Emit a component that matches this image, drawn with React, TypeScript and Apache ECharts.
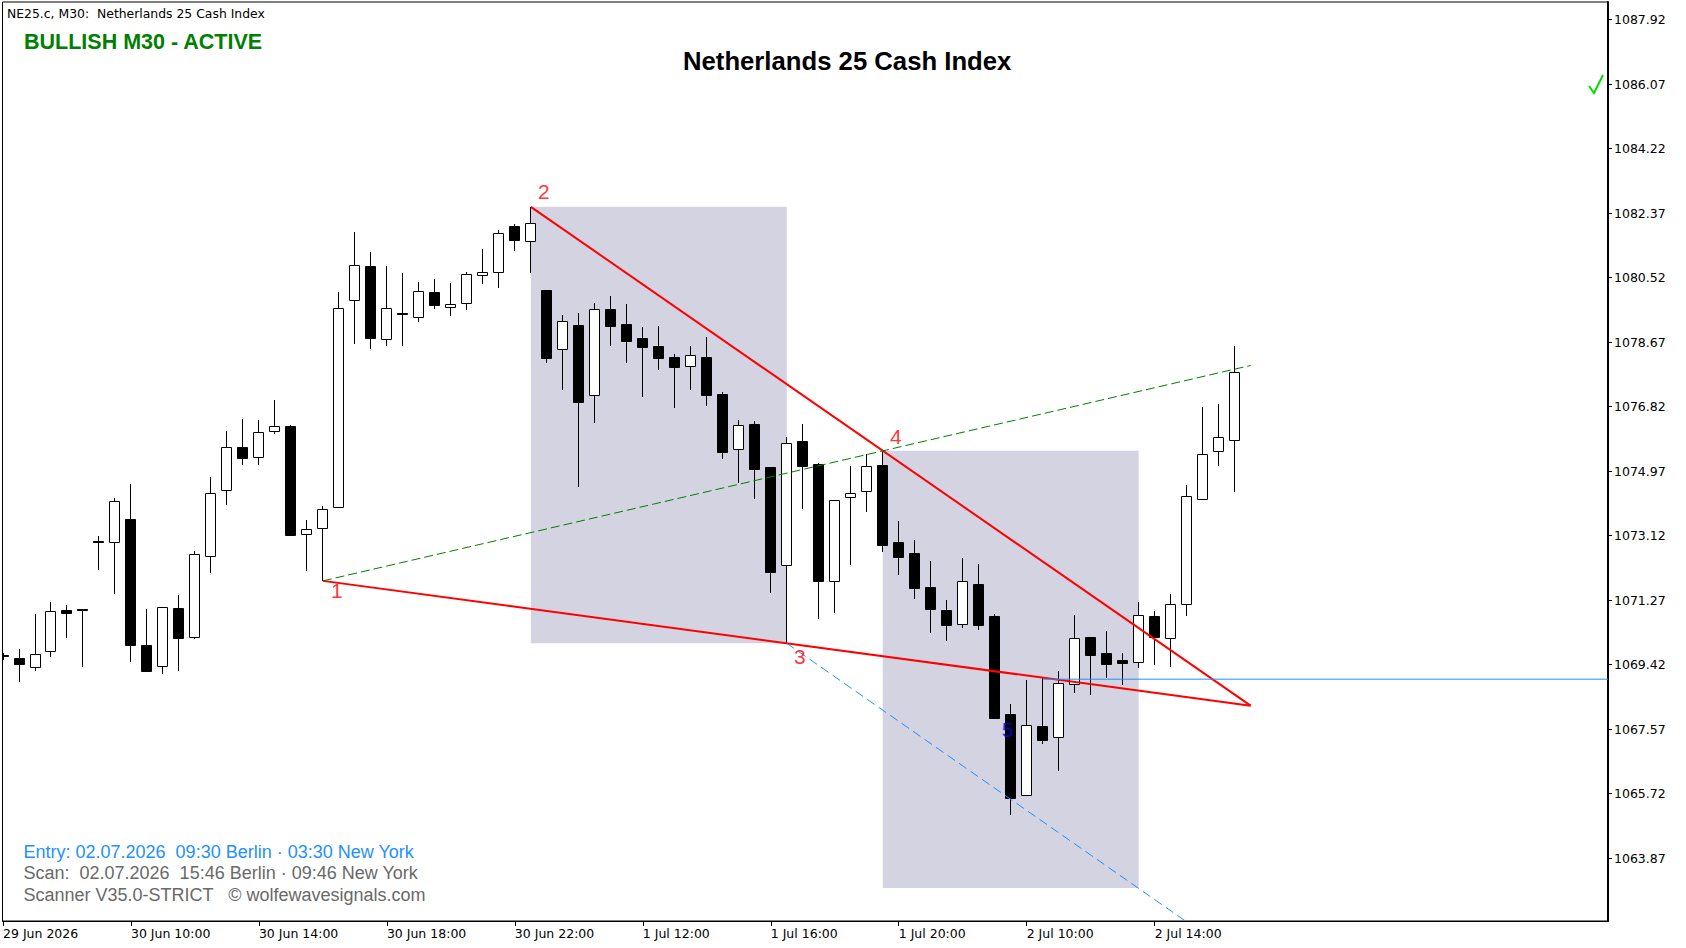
import React, { useEffect, useRef } from "react";
import * as echarts from "echarts";

// ---------- data ----------
const firstBar = -1;
const opens = [1069.68,1069.60,1069.34,1069.80,1070.98,1071.00,1072.97,1072.94,1073.59,1069.97,1069.39,1071.03,1070.20,1072.52,1074.42,1075.65,1075.36,1076.11,1076.25,1073.16,1073.33,1073.95,1079.87,1080.84,1078.75,1079.50,1079.38,1080.10,1079.69,1079.80,1080.59,1080.67,1081.99,1081.56,1080.16,1078.46,1079.15,1077.14,1079.61,1079.18,1078.78,1078.55,1078.23,1077.97,1078.23,1077.18,1075.59,1076.32,1075.08,1072.28,1075.83,1075.16,1071.82,1074.22,1074.39,1075.13,1072.93,1072.61,1071.63,1070.98,1070.57,1071.73,1070.81,1068.00,1065.67,1067.66,1067.33,1068.87,1070.20,1069.74,1069.54,1069.50,1070.81,1070.17,1071.15,1074.16,1075.54,1075.85];
const closes = [1069.66,1069.43,1069.71,1070.96,1070.89,1070.98,1072.96,1074.10,1069.98,1069.24,1071.06,1070.19,1072.58,1074.33,1075.65,1075.35,1076.08,1076.25,1073.14,1073.30,1073.87,1079.64,1080.87,1078.80,1079.64,1079.49,1080.13,1079.74,1079.75,1080.61,1080.67,1081.79,1081.61,1082.08,1078.22,1079.27,1076.96,1079.61,1079.14,1078.71,1078.54,1078.22,1077.96,1078.29,1077.16,1075.53,1076.29,1075.03,1072.08,1075.77,1075.12,1071.82,1074.13,1074.33,1075.11,1072.84,1072.51,1071.62,1071.02,1070.56,1071.81,1070.56,1067.90,1065.60,1067.68,1067.26,1068.90,1070.17,1069.70,1069.44,1069.46,1070.83,1070.22,1071.15,1074.25,1075.45,1075.94,1077.80];
const lows = [1069.55,1068.93,1069.24,1069.64,1070.19,1069.36,1072.13,1071.45,1069.50,1069.24,1069.15,1069.24,1070.16,1072.04,1074.01,1075.15,1075.15,1076.03,1073.10,1072.11,1071.82,1073.93,1078.62,1078.48,1078.57,1078.57,1079.25,1079.63,1079.43,1079.60,1080.34,1080.23,1081.27,1080.66,1078.08,1077.30,1074.52,1076.36,1078.57,1078.08,1077.10,1077.88,1076.79,1077.30,1076.84,1075.32,1074.64,1074.16,1071.46,1070.03,1073.88,1070.73,1070.91,1072.28,1073.80,1072.64,1072.00,1071.29,1070.33,1070.09,1070.46,1070.41,1067.89,1065.10,1065.65,1067.13,1066.37,1068.60,1068.55,1069.04,1068.82,1069.33,1069.42,1069.36,1070.82,1074.14,1075.12,1074.38];
const highs = [1069.75,1069.86,1070.87,1071.21,1071.13,1071.01,1073.11,1074.20,1074.60,1071.01,1071.08,1071.41,1072.68,1074.80,1076.12,1076.46,1076.43,1077.01,1076.29,1073.57,1073.97,1080.10,1081.82,1081.25,1080.84,1080.65,1080.39,1080.48,1080.36,1080.69,1081.33,1081.89,1082.06,1082.55,1080.17,1079.45,1079.50,1079.79,1079.99,1079.76,1079.10,1079.13,1078.33,1078.56,1078.82,1077.24,1076.43,1076.40,1075.10,1075.96,1076.32,1075.19,1074.15,1075.11,1075.46,1075.55,1073.54,1072.98,1072.39,1071.27,1072.48,1072.30,1070.87,1068.29,1068.98,1069.05,1069.23,1070.83,1070.22,1070.38,1069.74,1071.21,1070.96,1071.44,1074.57,1076.80,1076.89,1078.56];

const xTickBars = [-1, 7, 15, 23, 31, 39, 47, 55, 63, 71];
const xTickLabels = ["29 Jun 2026","30 Jun 10:00","30 Jun 14:00","30 Jun 18:00","30 Jun 22:00","1 Jul 12:00","1 Jul 16:00","1 Jul 20:00","2 Jul 10:00","2 Jul 14:00"];
const yTicks = [1063.87,1065.72,1067.57,1069.42,1071.27,1073.12,1074.97,1076.82,1078.67,1080.52,1082.37,1084.22,1086.07,1087.92];

const waveLabels = ["1","2","3","4","5"];
const waveBars = [19, 32, 48, 54, 62];
const wavePrices = [1071.82, 1082.55, 1070.03, 1075.55, 1065.10];
const apexBar = 77;
const apexPrice = 1068.24;
const line14EndPrice = 1078.0; // 1-4 line at apex bar
const projection35 = [[48, 1070.03], [77, 1060.76]];
const zones = [
  { from: 32, to: 48, top: 1082.55, bottom: 1070.03 },
  { from: 54, to: 70, top: 1075.55, bottom: 1063.01 },
];
const entryBar = 64;
const entryPrice = 1069.0;

const titleText = "Netherlands 25 Cash Index";
const symbolText = "NE25.c, M30:  Netherlands 25 Cash Index";
const statusText = "BULLISH M30 - ACTIVE";
const infoLines = [
  "Entry: 02.07.2026  09:30 Berlin · 03:30 New York",
  "Scan:  02.07.2026  15:46 Berlin · 09:46 New York",
  "Scanner V35.0-STRICT   © wolfewavesignals.com",
];

// ---------- styles ----------
const X_MIN = -1.03125;
const X_MAX = 99.34375;
const Y_MIN = 1062.063;
const Y_MAX = 1088.426;
const labelOffsets = [[14, 10], [13, -15], [13, 13], [13, -14], [-3, -86]];
const labelColors = ["#ff0000", "#ff0000", "#ff0000", "#ff0000", "#0000ff"];
const TAHOMA = "'DejaVu Sans', sans-serif";
const ARIAL = "'Liberation Sans', Arial, sans-serif";

export default function App() {
  const ref = useRef<HTMLDivElement>(null);

  useEffect(() => {
    if (!ref.current) return;
    const chart = echarts.init(ref.current, null, { renderer: "svg" });

    const candleData = opens.map((o, i) => [firstBar + i, o, closes[i], lows[i], highs[i]]);
    const tickMap: Record<string, string> = {};
    xTickBars.forEach((b, i) => (tickMap[String(b)] = xTickLabels[i]));

    const textStyle = (o: any) => ({
      ...o,
      textAlign: o.align,
      textVerticalAlign: o.verticalAlign,
    });

    const option: any = {
      animation: false,
      backgroundColor: "#ffffff",
      grid: {
        left: 2,
        top: 2,
        width: 1606,
        height: 919,
        show: true,
        borderColor: "#000",
        borderWidth: 1,
        backgroundColor: "transparent",
      },
      xAxis: {
        type: "value",
        min: X_MIN,
        max: X_MAX,
        position: "bottom",
        splitLine: { show: false },
        axisLine: { show: true, onZero: false, lineStyle: { color: "#000", width: 1 } },
        axisTick: { show: true, customValues: xTickBars, length: 5, lineStyle: { color: "#000" } },
        axisLabel: {
          show: true,
          customValues: xTickBars,
          formatter: (v: number) => tickMap[String(Math.round(v))] || "",
          align: "left",
          margin: 6,
          color: "#000",
          fontFamily: TAHOMA,
          fontSize: 12.5,
        },
      },
      yAxis: {
        type: "value",
        min: Y_MIN,
        max: Y_MAX,
        position: "right",
        scale: true,
        splitLine: { show: false },
        axisLine: { show: true, onZero: false, lineStyle: { color: "#000", width: 2 } },
        axisTick: { show: true, customValues: yTicks, length: 4, lineStyle: { color: "#000" } },
        axisLabel: {
          show: true,
          customValues: yTicks,
          formatter: (v: number) => v.toFixed(2),
          margin: 6,
          color: "#000",
          fontFamily: TAHOMA,
          fontSize: 12.5,
        },
      },
      series: [
        {
          type: "line",
          data: [],
          z: 1,
          silent: true,
          markArea: {
            silent: true,
            itemStyle: { color: "rgb(211,211,225)", opacity: 1 },
            data: zones.map((zn) => [
              { xAxis: zn.from, yAxis: zn.top },
              { xAxis: zn.to, yAxis: zn.bottom },
            ]),
          },
        },
        {
          type: "custom",
          z: 2,
          clip: true,
          silent: true,
          data: candleData,
          encode: { x: 0, y: [1, 2, 3, 4] },
          renderItem: (params: any, api: any) => {
            const x = api.value(0);
            const o = api.value(1);
            const c = api.value(2);
            const l = api.value(3);
            const h = api.value(4);
            const pO = api.coord([x, o]);
            const pC = api.coord([x, c]);
            const pL = api.coord([x, l]);
            const pH = api.coord([x, h]);
            const cx = Math.floor(pO[0] + 0.01) + 0.5;
            const bull = c > o;
            const top = Math.round(Math.min(pO[1], pC[1]));
            let bot = Math.round(Math.max(pO[1], pC[1]));
            if (bot - top < 1) bot = top + 1;
            return {
              type: "group",
              children: [
                {
                  type: "line",
                  shape: { x1: cx, y1: Math.round(pH[1]), x2: cx, y2: Math.round(pL[1]) },
                  style: { stroke: "#000", lineWidth: 1 },
                },
                {
                  type: "rect",
                  shape: { x: cx - 5, y: top + 0.5, width: 10, height: bot - top },
                  style: { fill: bull ? "#fff" : "#000", stroke: "#000", lineWidth: 1 },
                },
              ],
            };
          },
        },
        {
          type: "line",
          z: 3,
          silent: true,
          symbol: "none",
          data: [[waveBars[0], wavePrices[0]], [apexBar, apexPrice]],
          lineStyle: { color: "#ff0000", width: 2 },
        },
        {
          type: "line",
          z: 3,
          silent: true,
          symbol: "none",
          data: [[waveBars[1], wavePrices[1]], [apexBar, apexPrice]],
          lineStyle: { color: "#ff0000", width: 2 },
        },
        {
          type: "line",
          z: 3,
          silent: true,
          symbol: "none",
          data: [[waveBars[0], wavePrices[0]], [apexBar, line14EndPrice]],
          lineStyle: { color: "#008000", width: 1, type: [9, 4] },
        },
        {
          type: "line",
          z: 3,
          silent: true,
          symbol: "none",
          clip: true,
          data: projection35,
          lineStyle: { color: "#1e90ff", width: 1, type: [9, 5] },
        },
        {
          type: "line",
          z: 3,
          silent: true,
          symbol: "none",
          clip: true,
          data: [[entryBar, entryPrice], [X_MAX, entryPrice]],
          lineStyle: { color: "#1e90ff", width: 1 },
        },
        {
          type: "scatter",
          z: 4,
          silent: true,
          symbolSize: 0,
          data: waveLabels.map((n, i) => ({
            value: [waveBars[i], wavePrices[i]],
            label: {
              show: true,
              formatter: n,
              position: "inside",
              offset: labelOffsets[i],
              color: labelColors[i],
              fontFamily: ARIAL,
              fontSize: 21,
            },
          })),
        },
      ],
      graphic: [
        {
          type: "text",
          z: 10,
          style: textStyle({ text: symbolText, x: 7, y: 13.5, fill: "#000", fontFamily: TAHOMA, fontSize: 12.4, align: "left", verticalAlign: "middle" }),
        },
        {
          type: "text",
          z: 10,
          style: textStyle({ text: statusText, x: 24, y: 41.5, fill: "#008000", fontFamily: ARIAL, fontWeight: "bold", fontSize: 21.5, align: "left", verticalAlign: "middle" }),
        },
        {
          type: "text",
          z: 10,
          style: textStyle({ text: titleText, x: 683, y: 60.5, fill: "#000", fontFamily: ARIAL, fontWeight: "bold", fontSize: 25.7, align: "left", verticalAlign: "middle" }),
        },
        {
          type: "polyline",
          z: 10,
          shape: { points: [[1589, 86], [1594, 93], [1603, 75]] },
          style: { stroke: "#00e000", lineWidth: 2, fill: null },
        },
        ...infoLines.map((t, i) => ({
          type: "text",
          z: 10,
          style: textStyle({
            text: t,
            x: 23.5,
            y: 851.5 + i * 21.5,
            fill: i === 0 ? "#1e90ff" : "#696969",
            fontFamily: ARIAL,
            fontSize: 18,
            align: "left",
            verticalAlign: "middle",
          }),
        })),
      ],
    };

    chart.setOption(option);
    return () => chart.dispose();
  }, []);

  return (
    <div
      ref={ref}
      style={{ position: "fixed", left: 0, top: 0, width: 1686, height: 948, background: "#fff" }}
    />
  );
}
